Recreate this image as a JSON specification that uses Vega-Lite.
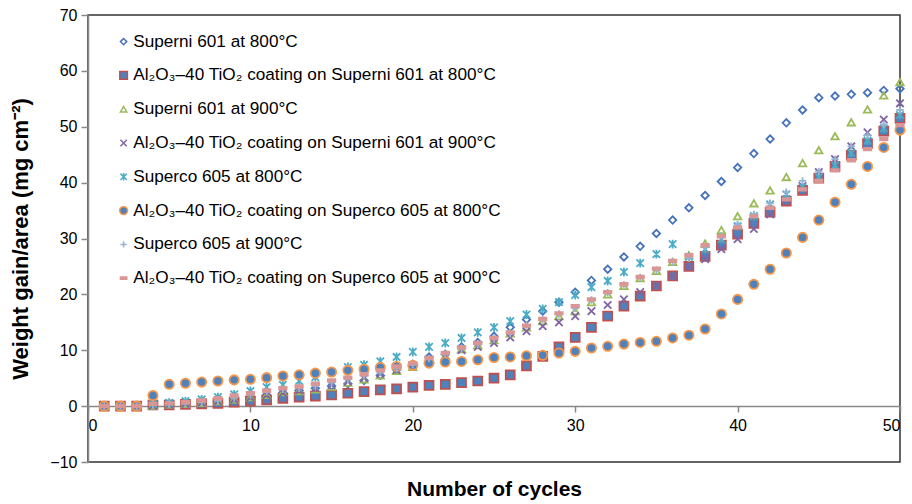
{
  "$schema": "https://vega.github.io/schema/vega-lite/v6.json",
  "width": 812,
  "height": 447,
  "autosize": {"type": "none"},
  "padding": {"left": 88, "top": 15, "right": 12, "bottom": 42},
  "background": "white",
  "config": {
    "font": "Liberation Sans",
    "view": {"stroke": "#333333", "strokeWidth": 1.5},
    "axis": {"labelFont": "Liberation Sans", "labelFontSize": 16, "labelColor": "#000000", "titleFont": "Liberation Sans", "titleFontWeight": "bold", "titleColor": "#000000", "grid": false, "domainColor": "#888888", "domainWidth": 1.5, "tickColor": "#888888", "tickWidth": 1.5}
  },
  "datasets": {
    "names": [
      {"k": "a", "name": "Superni 601 at 800°C"},
      {"k": "b", "name": "Al₂O₃–40 TiO₂ coating on Superni 601 at 800°C"},
      {"k": "c", "name": "Superni 601 at 900°C"},
      {"k": "d", "name": "Al₂O₃–40 TiO₂ coating on Superni 601 at 900°C"},
      {"k": "e", "name": "Superco 605 at 800°C"},
      {"k": "f", "name": "Al₂O₃–40 TiO₂ coating on Superco 605 at 800°C"},
      {"k": "g", "name": "Superco 605 at 900°C"},
      {"k": "h", "name": "Al₂O₃–40 TiO₂ coating on Superco 605 at 900°C"}
    ]
  },
  "data": {"values": [
    {"n":1,"a":0,"b":0,"c":0,"d":0,"e":0,"f":0,"g":0,"h":0},
    {"n":2,"a":0,"b":0,"c":0,"d":0,"e":0,"f":0,"g":0,"h":0},
    {"n":3,"a":0,"b":0,"c":0,"d":0,"e":0,"f":0,"g":0,"h":0},
    {"n":4,"a":0.1,"b":0.2,"c":0.1,"d":0.1,"e":0.4,"f":1.9,"g":0.3,"h":0.4},
    {"n":5,"a":0.3,"b":0.2,"c":0.3,"d":0.3,"e":0.6,"f":3.9,"g":0.4,"h":0.5},
    {"n":6,"a":0.5,"b":0.3,"c":0.4,"d":0.4,"e":0.9,"f":4.1,"g":0.5,"h":0.7},
    {"n":7,"a":0.8,"b":0.4,"c":0.6,"d":0.6,"e":1.2,"f":4.3,"g":0.7,"h":1.0},
    {"n":8,"a":1.0,"b":0.5,"c":0.9,"d":0.9,"e":1.6,"f":4.5,"g":1.0,"h":1.4},
    {"n":9,"a":1.3,"b":0.7,"c":1.2,"d":1.2,"e":2.1,"f":4.7,"g":1.5,"h":1.9},
    {"n":10,"a":1.6,"b":0.9,"c":1.6,"d":1.6,"e":2.7,"f":4.8,"g":2.0,"h":2.3},
    {"n":11,"a":2.0,"b":1.1,"c":2.0,"d":2.0,"e":3.4,"f":5.1,"g":2.5,"h":2.8},
    {"n":12,"a":2.4,"b":1.4,"c":2.5,"d":2.4,"e":3.8,"f":5.4,"g":3.0,"h":3.2},
    {"n":13,"a":2.8,"b":1.6,"c":2.7,"d":2.8,"e":4.5,"f":5.6,"g":3.2,"h":3.5},
    {"n":14,"a":3.2,"b":1.8,"c":3.0,"d":3.2,"e":5.2,"f":5.9,"g":3.6,"h":4.0},
    {"n":15,"a":3.6,"b":2.0,"c":3.5,"d":3.8,"e":6.1,"f":6.1,"g":4.2,"h":4.6},
    {"n":16,"a":4.0,"b":2.3,"c":4.2,"d":4.4,"e":7.0,"f":6.4,"g":4.8,"h":5.1},
    {"n":17,"a":4.6,"b":2.6,"c":4.8,"d":5.0,"e":7.4,"f":6.6,"g":5.4,"h":5.7},
    {"n":18,"a":5.5,"b":2.9,"c":5.5,"d":5.8,"e":8.0,"f":6.9,"g":6.0,"h":6.4},
    {"n":19,"a":6.5,"b":3.1,"c":6.3,"d":6.5,"e":8.8,"f":7.1,"g":6.7,"h":7.1},
    {"n":20,"a":7.5,"b":3.4,"c":7.0,"d":7.3,"e":9.7,"f":7.3,"g":7.4,"h":7.7},
    {"n":21,"a":8.8,"b":3.7,"c":8.3,"d":8.2,"e":10.6,"f":7.7,"g":8.5,"h":8.6},
    {"n":22,"a":9.3,"b":3.9,"c":9.0,"d":9.0,"e":11.3,"f":7.9,"g":9.3,"h":9.5},
    {"n":23,"a":10.6,"b":4.2,"c":10.2,"d":10.0,"e":12.2,"f":8.0,"g":10.3,"h":10.5},
    {"n":24,"a":11.4,"b":4.5,"c":10.9,"d":10.6,"e":13.2,"f":8.3,"g":11.0,"h":11.3},
    {"n":25,"a":12.5,"b":5.0,"c":11.8,"d":11.3,"e":14.1,"f":8.7,"g":12.0,"h":12.2},
    {"n":26,"a":14.1,"b":5.6,"c":13.0,"d":12.3,"e":15.2,"f":8.8,"g":13.0,"h":13.2},
    {"n":27,"a":15.5,"b":7.2,"c":14.1,"d":13.4,"e":16.4,"f":9.0,"g":14.5,"h":14.4},
    {"n":28,"a":17.0,"b":8.9,"c":15.2,"d":14.3,"e":17.4,"f":9.1,"g":15.5,"h":15.6},
    {"n":29,"a":18.6,"b":10.6,"c":16.1,"d":15.0,"e":18.6,"f":9.5,"g":16.5,"h":16.6},
    {"n":30,"a":20.4,"b":12.3,"c":17.0,"d":16.1,"e":19.9,"f":9.8,"g":17.5,"h":17.9},
    {"n":31,"a":22.5,"b":14.1,"c":18.6,"d":17.0,"e":21.3,"f":10.4,"g":19.0,"h":19.1},
    {"n":32,"a":24.5,"b":16.1,"c":20.0,"d":18.1,"e":22.4,"f":10.7,"g":20.3,"h":20.4},
    {"n":33,"a":26.7,"b":17.9,"c":21.5,"d":19.1,"e":24.0,"f":11.1,"g":21.7,"h":21.8},
    {"n":34,"a":28.6,"b":19.7,"c":22.9,"d":20.4,"e":25.6,"f":11.4,"g":23.0,"h":23.1},
    {"n":35,"a":30.9,"b":21.5,"c":24.2,"d":21.6,"e":27.2,"f":11.6,"g":24.3,"h":24.6},
    {"n":36,"a":33.3,"b":23.3,"c":25.8,"d":23.2,"e":29.0,"f":12.2,"g":25.8,"h":26.0},
    {"n":37,"a":35.5,"b":25.0,"c":27.0,"d":24.9,"e":26.7,"f":12.7,"g":26.5,"h":27.0},
    {"n":38,"a":37.7,"b":26.8,"c":29.1,"d":26.3,"e":28.1,"f":13.8,"g":28.5,"h":28.8},
    {"n":39,"a":40.2,"b":28.8,"c":31.5,"d":28.1,"e":29.9,"f":16.5,"g":30.5,"h":30.4},
    {"n":40,"a":42.7,"b":30.8,"c":34.0,"d":29.9,"e":32.2,"f":19.1,"g":32.5,"h":32.0},
    {"n":41,"a":45.2,"b":32.7,"c":36.3,"d":31.7,"e":34.0,"f":21.8,"g":34.3,"h":34.0},
    {"n":42,"a":47.8,"b":34.7,"c":38.6,"d":34.3,"e":36.1,"f":24.5,"g":36.3,"h":35.5},
    {"n":43,"a":50.7,"b":36.7,"c":41.0,"d":37.0,"e":37.9,"f":27.4,"g":38.3,"h":37.0},
    {"n":44,"a":53.0,"b":38.6,"c":43.5,"d":39.4,"e":39.2,"f":30.2,"g":40.3,"h":38.8},
    {"n":45,"a":55.2,"b":40.8,"c":45.8,"d":41.9,"e":41.0,"f":33.3,"g":42.0,"h":40.3},
    {"n":46,"a":55.5,"b":42.9,"c":48.3,"d":44.2,"e":43.1,"f":36.5,"g":44.2,"h":42.2},
    {"n":47,"a":55.8,"b":44.9,"c":50.8,"d":46.5,"e":45.3,"f":39.7,"g":46.5,"h":44.0},
    {"n":48,"a":56.1,"b":47.0,"c":53.1,"d":49.0,"e":47.5,"f":42.9,"g":48.5,"h":46.0},
    {"n":49,"a":56.5,"b":49.2,"c":55.6,"d":51.3,"e":49.7,"f":46.3,"g":50.4,"h":47.8},
    {"n":50,"a":56.8,"b":51.5,"c":58.0,"d":54.2,"e":52.1,"f":49.4,"g":53.0,"h":50.3}
  ]},
  "transform": [
    {"fold": ["a","b","c","d","e","f","g","h"], "as": ["k","w"]},
    {"lookup": "k", "from": {"data": {"name": "names"}, "key": "k", "fields": ["name"]}}
  ],
  "mark": {"type": "point", "filled": true, "size": 55, "strokeWidth": 1.8, "opacity": 1},
  "encoding": {
    "x": {"field": "n", "type": "quantitative", "title": "Number of cycles",
      "scale": {"domain": [0, 50], "nice": false, "zero": false},
      "axis": {"values": [0,10,20,30,40,50], "offset": -56, "tickSize": 6, "labelPadding": 5, "titlePadding": 45, "titleFontSize": 21}},
    "y": {"field": "w", "type": "quantitative", "title": "Weight gain/area (mg cm⁻²)",
      "scale": {"domain": [-10, 70], "nice": false, "zero": false},
      "axis": {"values": [-10,0,10,20,30,40,50,60,70], "tickSize": 7, "labelPadding": 4, "titlePadding": 17, "titleFontSize": 22}},
    "shape": {"field": "name", "type": "nominal",
      "scale": {"domain": ["Superni 601 at 800°C","Al₂O₃–40 TiO₂ coating on Superni 601 at 800°C","Superni 601 at 900°C","Al₂O₃–40 TiO₂ coating on Superni 601 at 900°C","Superco 605 at 800°C","Al₂O₃–40 TiO₂ coating on Superco 605 at 800°C","Superco 605 at 900°C","Al₂O₃–40 TiO₂ coating on Superco 605 at 900°C"],
        "range": ["diamond","M-1.2,-1.2L1.2,-1.2L1.2,1.2L-1.2,1.2Z","triangle-up","M-1,-1L1,1M-1,1L1,-1","M-1,-1L1,1M-1,1L1,-1M0,-1.2L0,1.2","M-1.25,0A1.25,1.25,0,1,0,1.25,0A1.25,1.25,0,1,0,-1.25,0Z","M-1,0L1,0M0,-1L0,1","M-1,-0.35L1,-0.35L1,0.35L-1,0.35Z"]},
      "legend": {"title": null, "orient": "none", "legendX": 27, "legendY": 18, "padding": 0, "symbolSize": 40, "symbolStrokeWidth": 1.5, "labelFont": "Liberation Sans", "labelFontSize": 17.2, "labelColor": "#000000", "labelLimit": 600, "rowPadding": 15.8, "labelOffset": 1}},
    "fill": {"field": "name", "type": "nominal",
      "scale": {"domain": ["Superni 601 at 800°C","Al₂O₃–40 TiO₂ coating on Superni 601 at 800°C","Superni 601 at 900°C","Al₂O₃–40 TiO₂ coating on Superni 601 at 900°C","Superco 605 at 800°C","Al₂O₃–40 TiO₂ coating on Superco 605 at 800°C","Superco 605 at 900°C","Al₂O₃–40 TiO₂ coating on Superco 605 at 900°C"],
        "range": ["transparent","#4F81BD","transparent","transparent","transparent","#4F81BD","transparent","#D99694"]},
      "legend": {"title": null, "orient": "none", "legendX": 27, "legendY": 18, "padding": 0, "symbolSize": 40, "symbolStrokeWidth": 1.5, "labelFont": "Liberation Sans", "labelFontSize": 17.2, "labelColor": "#000000", "labelLimit": 600, "rowPadding": 15.8, "labelOffset": 1}},
    "stroke": {"field": "name", "type": "nominal",
      "scale": {"domain": ["Superni 601 at 800°C","Al₂O₃–40 TiO₂ coating on Superni 601 at 800°C","Superni 601 at 900°C","Al₂O₃–40 TiO₂ coating on Superni 601 at 900°C","Superco 605 at 800°C","Al₂O₃–40 TiO₂ coating on Superco 605 at 800°C","Superco 605 at 900°C","Al₂O₃–40 TiO₂ coating on Superco 605 at 900°C"],
        "range": ["#4672BC","#C0504D","#9BBB59","#8064A2","#4BACC6","#F79646","#95B3D7","#D99694"]},
      "legend": {"title": null, "orient": "none", "legendX": 27, "legendY": 18, "padding": 0, "symbolSize": 40, "symbolStrokeWidth": 1.5, "labelFont": "Liberation Sans", "labelFontSize": 17.2, "labelColor": "#000000", "labelLimit": 600, "rowPadding": 15.8, "labelOffset": 1}}
  }
}
